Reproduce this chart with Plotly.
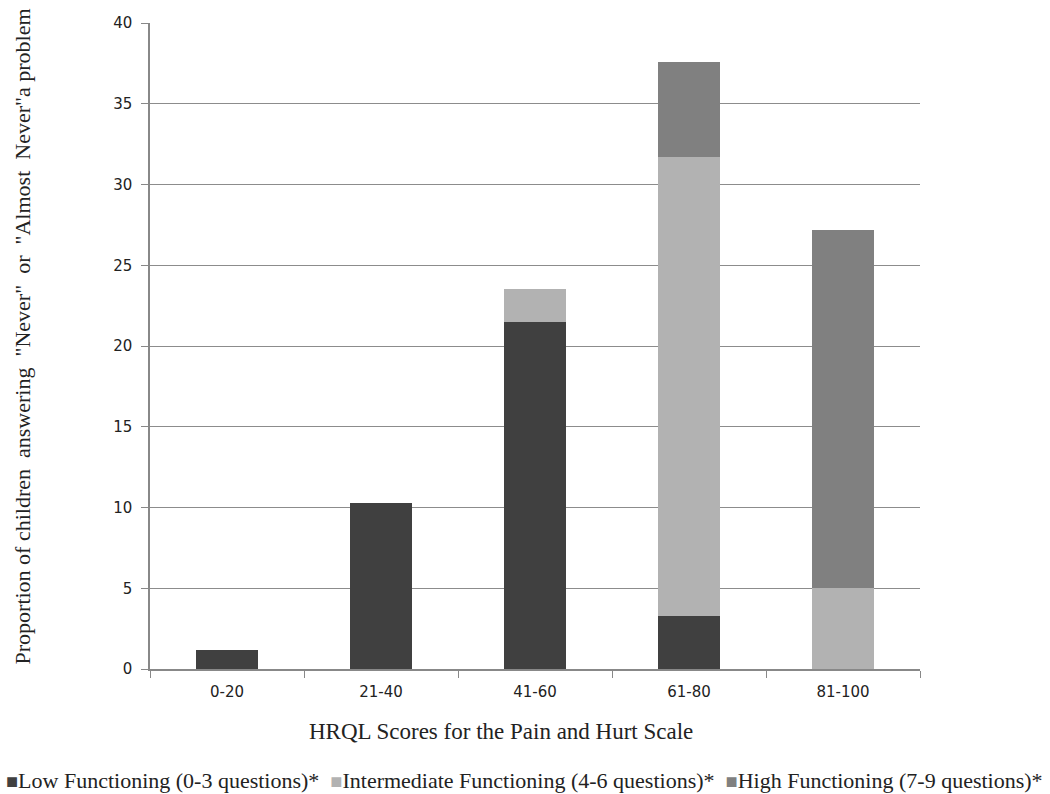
import plotly.graph_objects as go

categories = ["0-20", "21-40", "41-60", "61-80", "81-100"]
low = [1.2, 10.3, 21.5, 3.3, 0]
intermediate = [0, 0, 2.0, 28.4, 5.0]
high = [0, 0, 0, 5.9, 22.2]
series_names = ["Low Functioning (0-3 questions)*",
                "Intermediate Functioning (4-6 questions)*",
                "High Functioning (7-9 questions)*"]
colors = ["#404040", "#b2b2b2", "#808080"]

fig = go.Figure()
for name, vals, col in zip(series_names, [low, intermediate, high], colors):
    fig.add_trace(go.Bar(x=categories, y=vals, name=name, marker_color=col,
                         marker_line_width=0, width=0.4))

fig.update_layout(
    width=1050, height=794,
    barmode="stack",
    plot_bgcolor="white", paper_bgcolor="white",
    margin=dict(l=150, r=130, t=23, b=125, autoexpand=False),
    showlegend=False,
    xaxis=dict(showline=True, linecolor="#888", linewidth=1.5, automargin=False,
               ticks="outside", tickson="boundaries", ticklen=7, tickcolor="#888",
               ticklabelstandoff=8,
               tickfont=dict(family="DejaVu Sans", size=15, color="#222")),
    yaxis=dict(range=[0, 40], dtick=5, showline=True, linecolor="#888", linewidth=1.5,
               automargin=False,
               ticks="outside", ticklen=7, tickcolor="#888", ticklabelstandoff=6,
               showgrid=True, gridcolor="#8c8c8c", gridwidth=1.3, zeroline=False,
               tickfont=dict(family="DejaVu Sans", size=15, color="#222")),
)

# y-axis title
fig.add_annotation(text='Proportion of children  answering  "Never"  or  "Almost  Never"a problem',
                   xref="paper", yref="paper", x=-0.166, y=0.515, xanchor="center", yanchor="middle",
                   textangle=-90, showarrow=False,
                   font=dict(family="Liberation Serif", size=22, color="#222"))

# x-axis title
fig.add_annotation(text="HRQL Scores for the Pain and Hurt Scale",
                   xref="paper", yref="paper", x=0.456, y=-0.096, xanchor="center", yanchor="middle",
                   showarrow=False,
                   font=dict(family="Liberation Serif", size=23, color="#222"))

# legend
parts = []
for name, col in zip(series_names, colors):
    parts.append('<span style="color:%s;font-size:20px">■</span>%s' % (col, name))
legend_text = "\u00a0\u00a0".join(parts)
fig.add_annotation(text=legend_text,
                   xref="paper", yref="paper", x=0.487, y=-0.172, xanchor="center", yanchor="middle",
                   showarrow=False,
                   font=dict(family="Liberation Serif", size=22, color="#222"))

fig.write_html("out.html", config={"displayModeBar": False})
with open("out.html", "r", encoding="utf-8") as f:
    html = f.read()
html = html.replace("<head>", "<head><style>body{margin:0;padding:0;}</style>", 1)
with open("out.html", "w", encoding="utf-8") as f:
    f.write(html)
